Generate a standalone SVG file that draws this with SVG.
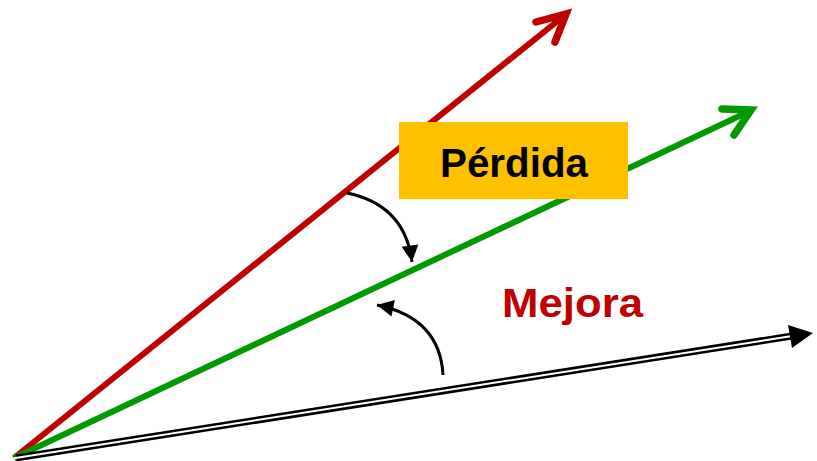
<svg xmlns="http://www.w3.org/2000/svg" width="817" height="461" viewBox="0 0 817 461">
<style>
.lbl{font-family:"Liberation Sans",Arial,sans-serif;font-weight:bold;font-size:40px}
.curve{fill:none;stroke:#000;stroke-width:3}
</style>
<defs>
<marker id="ah" markerWidth="6" markerHeight="6" refX="5.5" refY="3" orient="auto" markerUnits="strokeWidth" overflow="visible">
<path d="M0,0.2 L5.5,3 L0,5.8 Z" fill="#000"/>
</marker>
</defs>
<g id="connectors">
<g id="red-vector">
<line x1="14" y1="458" x2="565" y2="15" stroke="#C00000" stroke-width="6"/>
<polyline points="536,22 566,14 555,42" fill="none" stroke="#C00000" stroke-width="7.5" stroke-linecap="round" stroke-linejoin="miter"/>
</g>
<g id="green-vector">
<line x1="14" y1="458" x2="750" y2="111" stroke="#009900" stroke-width="6"/>
<polyline points="722,109 751,110 734,135" fill="none" stroke="#009900" stroke-width="7.5" stroke-linecap="round" stroke-linejoin="miter"/>
</g>
<g id="black-vector">
<line x1="16" y1="458" x2="792" y2="336" stroke="#000" stroke-width="7"/>
<line x1="14" y1="458.3" x2="792" y2="336" stroke="#fff" stroke-width="2"/>
<polygon points="813,333 788,325 792,348" fill="#000"/>
</g>
<path id="arc-perdida" class="curve" d="M347,193 Q405,205 412,262" marker-end="url(#ah)"/>
<path id="arc-mejora" class="curve" d="M443,375 Q440,318 377,305" marker-end="url(#ah)"/>
</g>
<g id="perdida">
<rect x="399" y="122" width="229" height="77" fill="#FFC000"/>
<text class="lbl" x="514" y="177" text-anchor="middle" fill="#000" textLength="148" lengthAdjust="spacingAndGlyphs">Pérdida</text>
</g>
<g id="mejora">
<text class="lbl" x="502" y="317" fill="#C00000" textLength="141" lengthAdjust="spacingAndGlyphs">Mejora</text>
</g>
</svg>
